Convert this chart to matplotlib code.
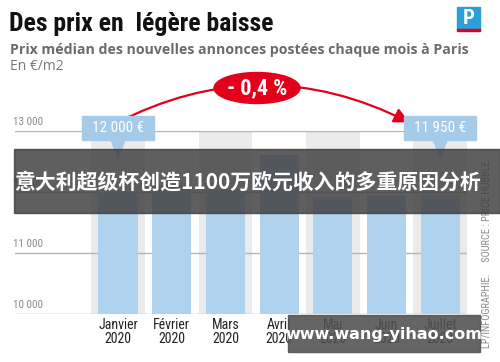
import matplotlib
matplotlib.use("Agg")
import matplotlib.pyplot as plt
from matplotlib.patches import Rectangle, Polygon, Ellipse
from matplotlib.transforms import blended_transform_factory

mois = ["Janvier\n2020", "Février\n2020", "Mars\n2020", "Avril\n2020",
        "Mai\n2020", "Juin\n2020", "Juillet\n2020"]
prix = [12000, 12110, 12030, 12600, 11920, 11950, 11950]
graduations = [10000, 11000, 12000, 13000]
etiquettes_grad = ["10 000", "11 000", "12 000", "13 000"]

narrow = ["Roboto Condensed", "DejaVu Sans"]
bleu = "#afd2ee"
gris_col = "#ebebeb"
rouge = "#e3001b"

fig = plt.figure(figsize=(5, 3.62), dpi=100)
W, H = 500, 362
ax = fig.add_axes([15 / W, 1 - 314 / H, (467 - 15) / W, (314 - 131) / H])
ax.set_xlim(-1.92, 6.5)
ax.set_ylim(10000, 13000)
for s in ax.spines.values():
    s.set_visible(False)

x = list(range(len(mois)))
# colonnes grises alternées
for i in x:
    if i % 2 == 0:
        ax.bar(i, 3000, bottom=10000, width=1.0, color=gris_col, zorder=1)
for g in graduations:
    ax.axhline(g, color="#b5b5b5", lw=1.0, zorder=2)
ax.bar(x, [p - 10000 for p in prix], bottom=10000, width=0.73, color=bleu, zorder=3)

tr = blended_transform_factory(ax.transAxes, ax.transData)
for g, lab in zip(graduations, etiquettes_grad):
    ax.text(-0.005, g + 60, lab, transform=tr, fontsize=8, color="#8a8a8a",
            family=narrow, va="bottom", ha="left")

ax.set_xticks(x)
ax.set_xticklabels(mois, fontsize=10, family=narrow, color="#222222", linespacing=1.0)
ax.tick_params(axis="x", length=0, pad=3)
ax.set_yticks([])

# étiquettes de valeur
for i, txt in [(0, "12 000 €"), (6, "11 950 €")]:
    ax.add_patch(Rectangle((i - 0.67, 12850), 1.34, 400, color="#a6cbe9", zorder=5, clip_on=False))
    ax.add_patch(Polygon([[i - 0.13, 12852], [i + 0.13, 12852], [i, 12560]], closed=True,
                         color="#a6cbe9", zorder=5, clip_on=False))
    ax.text(i, 13050, txt, ha="center", va="center", color="white", fontsize=11,
            family=narrow, zorder=6)

# flèche
ax.annotate("", xy=(5.47, 13120), xytext=(-0.1, 13100),
            arrowprops=dict(arrowstyle="-|>,head_length=0.9,head_width=0.45", color=rouge,
                            lw=1.6, connectionstyle="arc3,rad=-0.26"),
            annotation_clip=False, zorder=4)
fig.patches.append(Ellipse((257 / W, 1 - 88 / H), 86 / W, 31 / H, color=rouge,
                           transform=fig.transFigure, zorder=5))
fig.text(257 / W, 1 - 88 / H, "- 0,4 %", ha="center", va="center", color="white",
         fontsize=16, weight="bold", family=narrow, zorder=6)

# titres
fig.text(9 / W, 1 - 24 / H, "Des prix en  légère baisse", fontsize=18.5, weight="bold",
         family=narrow, va="center", ha="left", color="#111111")
fig.text(10 / W, 1 - 50 / H, "Prix médian des nouvelles annonces postées chaque mois à Paris",
         fontsize=10.2, weight="bold", family="Open Sans", va="center", ha="left", color="#6b6b6b")
fig.text(10 / W, 1 - 66 / H, "En €/m2", fontsize=10, family="Open Sans",
         va="center", ha="left", color="#777777")

# logo
fig.patches.append(Rectangle((457 / W, 1 - 30 / H), 23 / W, 23 / H, color="#2c9fd8",
                             transform=fig.transFigure))
fig.patches.append(Rectangle((457 / W, 1 - 31 / H), 23 / W, 1.5 / H, color=rouge,
                             transform=fig.transFigure))
fig.text(468.5 / W, 1 - 18 / H, "P", ha="center", va="center", color="white",
         fontsize=15, weight="bold", family=narrow)

fig.text(487 / W, 1 - 253 / H, "LP/INFOGRAPHIE.     SOURCE : PRICE HUBBLE.", rotation=90,
         ha="center", va="center", fontsize=7.5, color="#8a8a8a", family=narrow)

# bandeaux
fig.patches.append(Rectangle((14 / W, 1 - 213 / H), 486 / W, 64 / H, color="#3c3c3c", alpha=0.82,
                             transform=fig.transFigure, zorder=10))
fig.text(14 / W, 1 - 182 / H, "意大利超级杯创造1100万欧元收入的多重原因分析", ha="left", va="center",
         color="white", fontsize=15, weight="bold", family=["Noto Sans CJK SC", "DejaVu Sans"],
         zorder=11)
fig.patches.append(Rectangle((288 / W, 1 - 352 / H), 192 / W, 37 / H, color="#505050", alpha=0.88,
                             transform=fig.transFigure, zorder=10))
fig.text(384 / W, 1 - 334 / H, "www.wang-yihao.com", ha="center", va="center", color="white",
         fontsize=11.5, weight="bold", family="DejaVu Sans", zorder=11)

fig.savefig("out.png", dpi=100)
